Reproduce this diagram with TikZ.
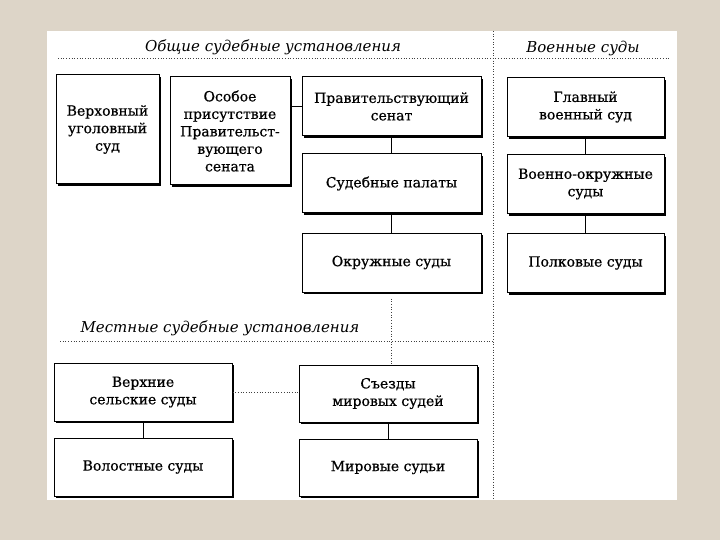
\documentclass[tikz,border=0pt]{standalone}
\usepackage{fontspec}
\setmainfont{DejaVu Serif}
\newfontfamily\courtfont{DejaVu Serif}[FakeBold=0.6]
\usepackage{xcolor}
\usetikzlibrary{positioning, shadows}
\definecolor{paper}{RGB}{221,213,200}

\begin{document}
\begin{tikzpicture}[
    x=1pt, y=-1pt,
    node distance=17pt,
    court/.style={rectangle, draw, line width=1pt, fill=white, align=center, inner sep=2pt, font=\courtfont\fontsize{14}{17.5}\selectfont, drop shadow={shadow xshift=2.2pt, shadow yshift=-2.2pt, fill=black, opacity=1}},
    wide/.style={court, minimum width=179pt, minimum height=59pt},
    mil/.style={court, minimum width=157pt, minimum height=59pt},
    heading/.style={font=\fontsize{15}{18}\selectfont\itshape},
    link/.style={line width=0.8pt},
    divider/.style={dotted, line width=0.7pt, black!75}
]
    % paper and sheet
    \fill[paper] (0,0) rectangle (720,540);
    \fill[white] (47,31) rectangle (677,500);
    \useasboundingbox (0,0) rectangle (720,540);

    % section headings
    \node[heading] (general) at (273,47) {Общие судебные установления};
    \node[heading] (military) at (583,48) {Военные суды};
    \node[heading] (local) at (220,328) {Местные судебные установления};

    % dividers
    \coordinate (topleft) at (58,58);
    \coordinate (topright) at (670,58);
    \coordinate (splittop) at (493,31);
    \coordinate (splitbottom) at (493,500);
    \coordinate (localleft) at (60,341);
    \coordinate (localright) at (493,341);
    \draw[divider] (topleft) -- (topright);
    \draw[divider] (splittop) -- (splitbottom);
    \draw[divider] (localleft) -- (localright);

    % general courts
    \node[court, minimum width=103pt, minimum height=109pt] (supreme) at (107.5,129.5) {Верховный\\уголовный\\суд};
    \node[court, minimum width=120pt, minimum height=108pt] (special) at (230,131) {Особое\\присутствие\\Правительст-\\вующего\\сената};
    \node[wide] (senate) at (391.5,106.5) {Правительствующий\\сенат};
    \node[wide, below=of senate] (chambers) {Судебные палаты};
    \node[wide, below=19pt of chambers] (district) {Окружные суды};

    % military courts
    \node[mil] (mainmil) at (585.5,107) {Главный\\военный суд};
    \node[mil, below=of mainmil] (mildistrict) {Военно-окружные\\суды};
    \node[mil, below=19pt of mildistrict] (regiment) {Полковые суды};

    % local courts
    \node[wide, minimum width=178pt, minimum height=58pt] (upper) at (143,392) {Верхние\\сельские суды};
    \node[wide, minimum width=178pt, minimum height=58pt, below=16pt of upper] (volost) {Волостные суды};
    \node[wide, minimum width=178pt, minimum height=57pt] (congress) at (388,393.5) {Съезды\\мировых судей};
    \node[wide, minimum width=178pt, minimum height=57pt, below=16pt of congress] (justices) {Мировые судьи};

    \draw[link] (special.east |- senate.west) -- (senate.west);
    \draw[link] (senate) -- (chambers);
    \draw[link] (chambers) -- (district);
    \draw[link] (mainmil) -- (mildistrict);
    \draw[link] (mildistrict) -- (regiment);
    \draw[link] (upper) -- (volost);
    \draw[link] (congress) -- (justices);
    \draw[divider] (upper.east) -- (upper.east -| congress.west);
    \draw[divider] ([yshift=-6pt]district.south) -- (district.south |- congress.north);
\end{tikzpicture}
\end{document}
